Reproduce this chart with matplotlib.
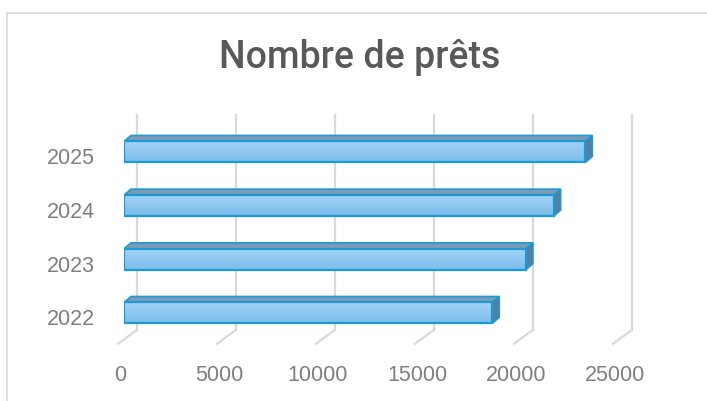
import numpy as np
import matplotlib
matplotlib.use("Agg")
import matplotlib.pyplot as plt
import matplotlib.transforms as mtransforms
from matplotlib.patches import Polygon, Rectangle

# ── data ──────────────────────────────────────────────────────────────────────
years = ["2022", "2023", "2024", "2025"]
loans = [18600, 20300, 21700, 23300]
xticks = [0, 5000, 10000, 15000, 20000, 25000]
title = "Nombre de prêts"

# ── style ─────────────────────────────────────────────────────────────────────
EDGE = "#1B9AD6"
TOP = "#7C9BB6"
SIDE = "#557E9F"
GRID = "#D9D9D9"
TXT = "#7F7F7F"
FONT = ["Liberation Sans", "DejaVu Sans"]

W, H = 707, 401
fig = plt.figure(figsize=(W / 100, H / 100), dpi=100)
fig.patch.set_facecolor("white")

# axes placed so that x=0 of bar fronts sits at px 124, 99 px per 5000
ax = fig.add_axes([124 / W, 61.2 / H, 495 / W, 214.7 / H])
ax.set_xlim(0, 25000)
ax.set_ylim(-0.5, len(years) - 0.5)
ax.axis("off")

# data units per pixel
p0 = ax.transData.transform((0, 0))
p1 = ax.transData.transform((1, 1))
ux = 1 / (p1[0] - p0[0])
uy = 1 / (p1[1] - p0[1])

bh = 0.39
bar_dx, bar_dy = 7 * ux, 6 * uy        # depth of a bar
back_dx, back_dy = 13 * ux, 10 * uy    # back wall offset
front_dx, front_dy = -6 * ux, -4 * uy  # front floor edge offset
ylo, yhi = -0.5, len(years) - 0.5

# gridlines on the back wall + floor diagonals
for t in xticks:
    ax.plot([t + back_dx, t + back_dx], [ylo + back_dy, yhi + back_dy],
            color=GRID, lw=1.6, zorder=1, clip_on=False)
    ax.plot([t + front_dx, t + back_dx], [ylo + front_dy, ylo + back_dy],
            color=GRID, lw=1.6, zorder=1, clip_on=False)

# gradient for bar fronts
grad = np.linspace(0, 1, 64).reshape(-1, 1)
cmap = matplotlib.colors.LinearSegmentedColormap.from_list(
    "front", ["#7CBCEB", "#A2D3F5"])

for i, v in enumerate(loans):
    b, tp = i - bh / 2, i + bh / 2
    top = Polygon([(0, tp), (v, tp), (v + bar_dx, tp + bar_dy), (bar_dx, tp + bar_dy)],
                  closed=True, facecolor=TOP, edgecolor=EDGE, lw=1.2, zorder=3)
    side = Polygon([(v, b), (v, tp), (v + bar_dx, tp + bar_dy), (v + bar_dx, b + bar_dy)],
                   closed=True, facecolor=SIDE, edgecolor=EDGE, lw=1.2, zorder=3)
    ax.add_patch(top)
    ax.add_patch(side)
    ax.imshow(grad, extent=[0, v, b, tp], origin="lower", cmap=cmap,
              aspect="auto", interpolation="bicubic", zorder=4)
    ax.add_patch(Rectangle((0, b), v, bh, facecolor="none", edgecolor=EDGE,
                           lw=1.6, zorder=5))

ax.set_xlim(0, 25000)
ax.set_ylim(ylo, yhi)

# category labels
lab_tr = ax.transData + mtransforms.ScaledTranslation(-29 / 100, -7 / 100, fig.dpi_scale_trans)
for i, y in enumerate(years):
    ax.text(0, i, y, transform=lab_tr, ha="right", va="center",
            fontsize=15.5, color=TXT, family=FONT, clip_on=False)

# value axis labels along the front edge
xt_tr = ax.transData + mtransforms.ScaledTranslation(-4 / 100, -36 / 100, fig.dpi_scale_trans)
for t in xticks:
    ax.text(t, ylo, str(t), transform=xt_tr,
            ha="center", va="center", fontsize=15.5, color=TXT, family=FONT,
            clip_on=False)

fig.text(359.5 / W, 1 - 57 / H, title, ha="center", va="center",
         fontsize=27, fontweight="medium", color="#595959",
         family=["Roboto", "DejaVu Sans"])

# chart frame (right/bottom edges fall outside the image)
fig.patches.append(Rectangle((6.5 / W, -0.1), 2, (H - 12.5) / H + 0.1,
                             transform=fig.transFigure, fill=False,
                             edgecolor=GRID, lw=1.2))

fig.savefig("out.png", dpi=100)
